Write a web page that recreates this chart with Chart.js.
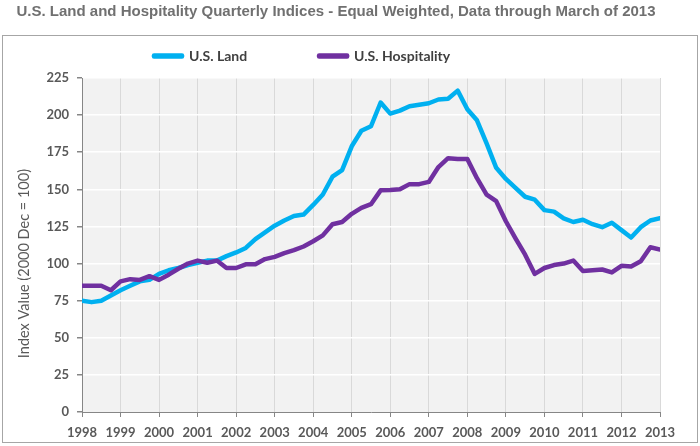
<!DOCTYPE html>
<html>
<head>
<meta charset="utf-8">
<title>U.S. Land and Hospitality Quarterly Indices</title>
<script src="https://cdn.jsdelivr.net/npm/chart.js@4.4.0/dist/chart.umd.min.js"></script>
<style>
  html, body { margin: 0; padding: 0; background: #fff; }
  #wrap { width: 700px; height: 446px; position: relative; }
</style>
</head>
<body>
<div id="wrap"><canvas id="indexChart"></canvas></div>
<script>
// Year tick labels on the x axis
var years = ['1998', '1999', '2000', '2001', '2002', '2003', '2004', '2005',
             '2006', '2007', '2008', '2009', '2010', '2011', '2012', '2013'];

// Quarterly index values, 1998 Q1 .. 2013 Q1 (2000 Dec = 100)
var landValues = [
  75, 74, 75, 78.5,          // 1998
  82, 85, 88, 89,            // 1999
  93, 95.5, 97, 99,          // 2000
  100.5, 102, 102, 105,      // 2001
  107.5, 110.5, 116.5, 121,  // 2002
  125.5, 129, 132, 133,      // 2003
  139.5, 146.5, 158.5, 163,  // 2004
  179, 189.5, 192.5, 208.5,  // 2005
  201, 203, 206, 207,        // 2006
  208, 210.5, 211, 216.5,    // 2007
  204, 196.5, 181, 164.5,    // 2008
  157, 151, 145, 143,        // 2009
  136, 135, 130.5, 128,      // 2010
  129.5, 126.5, 124.5, 127.5,// 2011
  122.5, 117.5, 124.5, 129,  // 2012
  130.5                      // 2013
];
var hospitalityValues = [
  85, 85, 85, 82,            // 1998
  88, 89.5, 89, 91.5,        // 1999
  89, 92.5, 96.5, 100,       // 2000
  102, 100.5, 102, 97,       // 2001
  97, 99.5, 99.5, 103,       // 2002
  104.5, 107, 109, 111.5,    // 2003
  115, 119, 126.5, 128,      // 2004
  133.5, 137.5, 140, 149.3,  // 2005
  149.5, 150, 153.5, 153.5,  // 2006
  155, 165, 171, 170.5,      // 2007
  170.5, 157.5, 146.5, 142,  // 2008
  128.5, 117, 106, 93,       // 2009
  97, 99, 100, 102,          // 2010
  95, 95.5, 96, 94,          // 2011
  98.5, 98, 101.5, 111,      // 2012
  109.5                      // 2013
];

// quarter positions on the year axis (Q1 = year start)
var quarterX = [];
for (var i = 0; i < landValues.length; i++) {
    quarterX.push(Number(years[0]) + i / 4);
}

function toPoints(values) {
    return values.map(function(v, i) { return { x: quarterX[i], y: v }; });
}

var tickFont = { family: 'Lato', size: 13, weight: 'bold' };
var none = 'rgba(0,0,0,0)';
var legendGap = 72;

// background of the plot, outer frame, and placement of title / legend
var framePlugin = {
    id: 'frame',
    afterLayout: function(chart) {
        var t = chart.titleBlock;
        var dx = 336 - (t.left + t.right) / 2;
        t.left += dx;
        t.right += dx;

        var lg = chart.legend;
        if (!lg || !lg.lineWidths) return;
        var start = (lg.left + legendGap + lg.right - lg.lineWidths[0]) / 2;
        var lx = 154 - start;
        lg.left += lx;
        lg.right += lx;
        lg.top = 49 - legendGap;
        lg.bottom = lg.top + legendGap + 30;
    },
    beforeDraw: function(chart) {
        var ctx = chart.ctx;
        var a = chart.chartArea;
        ctx.save();
        ctx.fillStyle = '#f2f2f2';
        ctx.fillRect(a.left, a.top, a.right - a.left, a.bottom - a.top);
        ctx.strokeStyle = '#a6a6a6';
        ctx.lineWidth = 1;
        ctx.strokeRect(2.5, 35.5, 695, 407);
        ctx.restore();
    }
};

var indexChart = new Chart(document.getElementById('indexChart').getContext('2d'), {
    type: 'line',
    data: {
        datasets: [{
            label: 'U.S. Land',
            data: toPoints(landValues),
            borderColor: '#00b0f0',
            backgroundColor: '#00b0f0',
            borderWidth: 4.5,
            borderCapStyle: 'round',
            borderJoinStyle: 'round',
            pointRadius: 0,
            tension: 0,
            order: 2
        }, {
            label: 'U.S. Hospitality',
            data: toPoints(hospitalityValues),
            borderColor: '#7030a0',
            backgroundColor: '#7030a0',
            borderWidth: 4.5,
            borderCapStyle: 'round',
            borderJoinStyle: 'round',
            pointRadius: 0,
            tension: 0,
            order: 1
        }]
    },
    options: {
        responsive: true,
        maintainAspectRatio: false,
        animation: false,
        layout: { padding: { left: 0, right: 40, top: 0, bottom: 0 } },
        plugins: {
            title: {
                display: true,
                text: 'U.S. Land and Hospitality Quarterly Indices - Equal Weighted, Data through March of 2013',
                color: '#707070',
                font: { family: 'Liberation Sans', size: 15, weight: 'bold' },
                padding: { top: 3, bottom: 27 }
            },
            legend: {
                position: 'top',
                maxHeight: 30,
                labels: {
                    boxWidth: 28,
                    boxHeight: 1,
                    padding: legendGap,
                    color: '#404040',
                    font: { family: 'Lato', size: 14, weight: 'bold' },
                    sort: function(a, b) { return a.datasetIndex - b.datasetIndex; }
                }
            },
            tooltip: { enabled: false }
        },
        scales: {
            x: {
                type: 'linear',
                min: 1998,
                max: 2013,
                ticks: {
                    stepSize: 1,
                    autoSkip: false,
                    maxRotation: 0,
                    padding: 8,
                    color: '#595959',
                    font: tickFont,
                    callback: function(value) { return years[Math.round(value - 1998)]; }
                },
                grid: {
                    color: function(c) { return c.index === 0 ? none : '#d9d9d9'; },
                    lineWidth: 1,
                    tickLength: 5,
                    tickColor: '#868686'
                },
                border: { display: true, color: '#868686', width: 1 },
                afterFit: function(scale) { scale.height = 34; }
            },
            y: {
                min: 0,
                max: 225,
                ticks: {
                    stepSize: 25,
                    padding: 8,
                    color: '#595959',
                    font: tickFont
                },
                grid: {
                    color: function(c) { return c.index === 0 ? none : '#ffffff'; },
                    lineWidth: 1.5,
                    tickLength: 5,
                    tickColor: '#868686'
                },
                border: { display: true, color: '#868686', width: 1 },
                title: {
                    display: true,
                    // trailing spaces push the label down like the original
                    text: 'Index Value (2000 Dec = 100)          ',
                    color: '#595959',
                    font: { family: 'Lato', size: 14.5 },
                    padding: { top: 16, bottom: 0 }
                },
                afterFit: function(scale) { scale.width = 82; }
            }
        }
    },
    plugins: [framePlugin]
});
</script>
</body>
</html>
